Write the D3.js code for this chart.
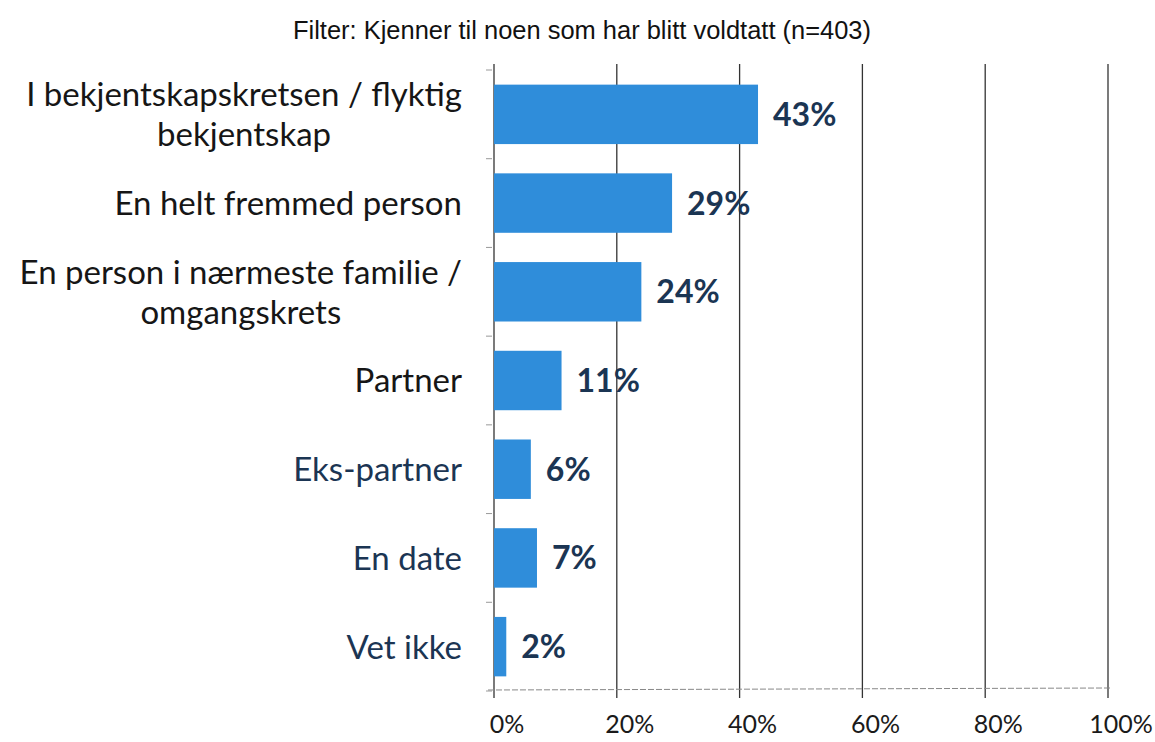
<!DOCTYPE html>
<html><head><meta charset="utf-8">
<script src="https://cdn.jsdelivr.net/npm/d3@7"></script>
<style>body{margin:0;background:#fff}</style>
</head><body>
<svg id="c" width="1155" height="742"></svg>
<script>
const title = "Filter: Kjenner til noen som har blitt voldtatt (n=403)";
const categories = [
  ["I bekjentskapskretsen / flyktig", "bekjentskap"],
  ["En helt fremmed person"],
  ["En person i nærmeste familie /", "omgangskrets"],
  ["Partner"],
  ["Eks-partner"],
  ["En date"],
  ["Vet ikke"]
];
const values = [43, 29, 24, 11, 6, 7, 2];
const labelNavy = [false, false, false, false, true, true, true];
const ticks = [0, 20, 40, 60, 80, 100];

const svg = d3.select("#c");
const m = {left: 494, right: 1108, top: 70, bottom: 691};
const x = d3.scaleLinear().domain([0, 100]).range([m.left, m.right]);
const y = d3.scaleBand().domain(d3.range(categories.length)).range([m.top, m.bottom]).paddingInner(0.33).paddingOuter(0.165);

svg.append("text").attr("x", 582).attr("y", 39).attr("text-anchor", "middle")
  .attr("font-family", "Liberation Sans, Arial, sans-serif").attr("font-size", 25).attr("fill", "#111")
  .attr("textLength", 578).attr("lengthAdjust", "spacingAndGlyphs").text(title);

// gridlines
svg.append("g").selectAll("line").data(ticks).join("line")
  .attr("x1", d => x(d)).attr("x2", d => x(d)).attr("y1", 64).attr("y2", 698)
  .attr("stroke", "#333").attr("stroke-width", 1.3);

// bottom axis line (light dotted)
svg.append("line").attr("x1", 488).attr("x2", 1110).attr("y1", 690).attr("y2", 688)
  .attr("stroke", "#888").attr("stroke-width", 1).attr("stroke-dasharray", "6,2");

// small y-ticks at band boundaries
const step = y.step();
svg.append("g").selectAll("line").data(d3.range(categories.length + 1)).join("line")
  .attr("x1", 486).attr("x2", 492)
  .attr("y1", i => m.top + i * step).attr("y2", i => m.top + i * step)
  .attr("stroke", "#999").attr("stroke-width", 1);

// bars
svg.append("g").selectAll("rect").data(values).join("rect")
  .attr("x", x(0)).attr("y", (d, i) => y(i))
  .attr("width", d => x(d) - x(0)).attr("height", y.bandwidth())
  .attr("fill", "#2f8dda");

// value labels
svg.append("g").selectAll("text").data(values).join("text")
  .attr("x", d => x(d) + 15).attr("y", (d, i) => y(i) + y.bandwidth() / 2)
  .attr("dy", "0.36em")
  .attr("font-family", "Lato, sans-serif").attr("font-weight", 700).attr("font-size", 32)
  .attr("fill", "#1b3553").text(d => d + "%");

// category labels
const cl = svg.append("g").selectAll("text").data(categories).join("text")
  .attr("text-anchor", "end")
  .attr("font-family", "Lato, sans-serif").attr("font-size", 33)
  .attr("fill", (d, i) => labelNavy[i] ? "#1b3553" : "#161616")
  .attr("transform", (d, i) => `translate(462,${y(i) + y.bandwidth() / 2})`);
cl.each(function(lines) {
  const t = d3.select(this);
  const n = lines.length;
  lines.forEach((s, k) => {
    t.append("tspan").attr("x", 0).attr("y", (k - (n - 1) / 2) * 40)
      .attr("dy", "0.36em").attr("text-anchor", k === 0 ? "end" : "middle").text(s);
  });
});
cl.each(function(lines) {
  if (lines.length < 2) return;
  const t = d3.select(this);
  const w = t.select("tspan").node().getComputedTextLength();
  t.selectAll("tspan").filter((d, k) => k === 1).attr("x", -w / 2);
});

// x tick labels
svg.append("g").selectAll("text").data(ticks).join("text")
  .attr("x", d => x(d) + 13).attr("y", 733).attr("text-anchor", "middle")
  .attr("font-family", "Lato, sans-serif").attr("font-size", 25).attr("fill", "#1a1a1a")
  .text(d => d + "%");
</script>
</body></html>
